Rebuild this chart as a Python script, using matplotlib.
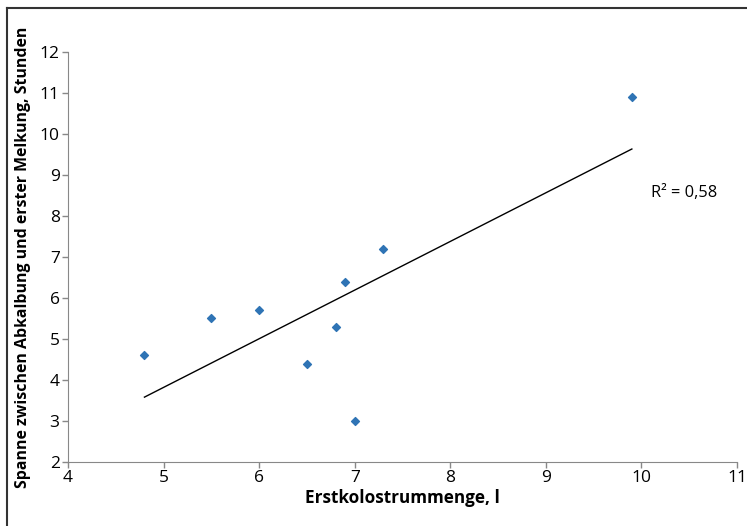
import numpy as np
import matplotlib.pyplot as plt
from matplotlib.lines import Line2D

# Data
kolostrum = [4.8, 5.5, 6.0, 6.5, 6.8, 6.9, 7.0, 7.3, 9.9]
spanne = [4.6, 5.5, 5.7, 4.4, 5.3, 6.4, 3.0, 7.2, 10.9]
x_ticks = [4, 5, 6, 7, 8, 9, 10, 11]
y_ticks = [2, 3, 4, 5, 6, 7, 8, 9, 10, 11, 12]

plt.rcParams['font.family'] = ['Open Sans', 'DejaVu Sans']

fig = plt.figure(figsize=(7.47, 5.26), dpi=100)
ax = fig.add_axes([0.0910, 0.1217, 0.8956, 0.7795])

ax.scatter(kolostrum, spanne, marker='D', s=16, color='#2f74b5', zorder=3)

# linear trend line over data range
k, d = np.polyfit(kolostrum, spanne, 1)
xs = np.array([min(kolostrum), max(kolostrum)])
ax.plot(xs, k * xs + d, color='black', linewidth=1)

ax.text(10.1, 8.55, 'R² = 0,58', fontsize=11.8, va='center', ha='left')

ax.set_xlim(4, 11)
ax.set_ylim(2, 12)
ax.set_xticks(x_ticks)
ax.set_yticks(y_ticks)
ax.tick_params(labelsize=12.5, length=4, color='#888888', width=1, pad=2)
for s in ['top', 'right']:
    ax.spines[s].set_visible(False)
for s in ['left', 'bottom']:
    ax.spines[s].set_color('#888888')

ax.set_xlabel('Erstkolostrummenge, l', fontsize=12.3, fontweight='bold', labelpad=2)
ax.set_ylabel('Spanne zwischen Abkalbung und erster Melkung, Stunden',
              fontsize=11.4, fontweight='bold', labelpad=6)

# outer frame of the chart area (cut off at right and bottom)
fig.add_artist(Line2D([6.5 / 747, 6.5 / 747], [0, 1 - 8 / 526], color='#333333', linewidth=1.5,
                      transform=fig.transFigure))
fig.add_artist(Line2D([6.5 / 747, 1], [1 - 8 / 526, 1 - 8 / 526], color='#333333', linewidth=1.5,
                      transform=fig.transFigure))

fig.savefig('out.png', dpi=100)
